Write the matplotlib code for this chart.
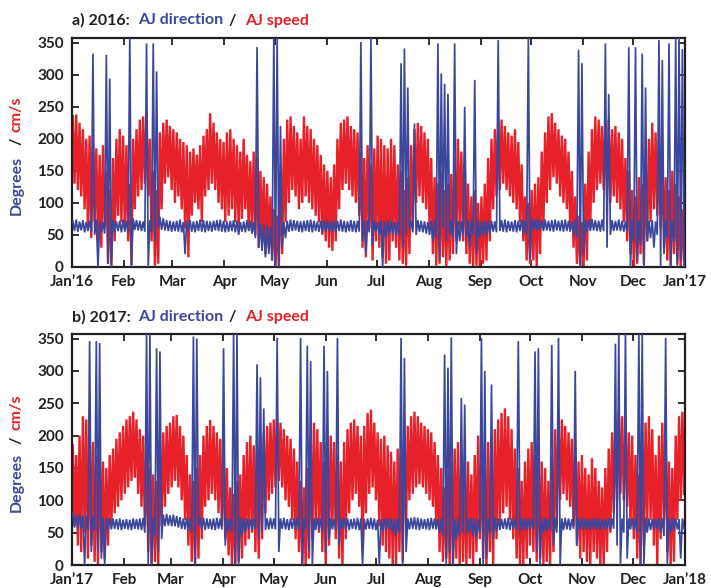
import numpy as np
import matplotlib
matplotlib.use("Agg")
import matplotlib.pyplot as plt

# AJ speed (cm/s) and direction (degrees): upper / lower envelope per 2-day step
speed_hi_2016 = [
    235, 238, 225, 215, 200, 205, 190, 185, 175, 190, 150, 120, 170, 200, 215,  # Jan
    205, 190, 130, 200, 215, 230, 235, 240, 200, 150, 120, 210, 225, 230, 220,  # Feb
    215, 210, 200, 195, 190, 180, 185, 175, 190, 205, 215, 240, 225, 210, 200, 195,  # Mar
    210, 215, 200, 190, 180, 200, 175, 165, 180, 170, 150, 140, 130, 110,  # Apr
    90, 80, 150, 200, 230, 235, 220, 210, 200, 235, 220, 215, 200, 190, 175, 160,  # May
    150, 140, 160, 200, 225, 230, 235, 220, 215, 210, 180, 170, 190, 160, 185,  # Jun
    205, 200, 190, 185, 200, 190, 160, 150, 120, 140, 190, 215, 225, 220, 210, 200,  # Jul
    170, 140, 130, 150, 120, 130, 145, 170, 200, 180, 160, 130, 110, 120, 100,  # Aug
    110, 130, 170, 200, 215, 225, 230, 220, 210, 205, 215, 195, 160, 110, 100,  # Sep
    120, 130, 140, 180, 210, 235, 240, 225, 215, 205, 200, 180, 150, 110, 80,  # Oct
    70, 130, 180, 215, 235, 230, 220, 225, 230, 215, 220, 210, 200, 170, 150,  # Nov
    120, 110, 140, 130, 160, 200, 225, 210, 190, 170, 140, 120, 150, 130, 110, 90,  # Dec
]
speed_lo_2016 = [
    130, 120, 110, 90, 60, 45, 70, 40, 30, 60, 5, 2, 40, 80, 70,
    60, 40, 3, 90, 110, 120, 130, 110, 40, 2, 5, 90, 130, 140, 120,
    100, 110, 90, 60, 15, 80, 100, 90, 70, 110, 120, 130, 120, 100, 90, 70,
    80, 90, 70, 60, 75, 90, 60, 55, 50, 30, 40, 20, 30, 10,
    2, 0, 20, 70, 100, 120, 110, 90, 100, 110, 100, 90, 80, 70, 50, 40,
    30, 25, 40, 90, 120, 130, 120, 110, 100, 80, 30, 15, 60, 10, 40,
    30, 15, 5, 10, 40, 30, 10, 5, 2, 20, 60, 100, 110, 100, 90, 60,
    20, 2, 5, 15, 0, 10, 20, 40, 60, 40, 20, 5, 0, 2, 0,
    5, 10, 40, 90, 110, 120, 130, 120, 110, 100, 90, 70, 40, 10, 5,
    10, 0, 20, 60, 100, 120, 140, 130, 110, 100, 90, 60, 30, 5, 0,
    0, 10, 60, 100, 120, 130, 120, 110, 100, 110, 100, 90, 70, 40, 20,
    0, 5, 20, 5, 40, 70, 90, 80, 60, 30, 10, 2, 20, 5, 0, 10,
]
dir_hi_2016 = [
    72, 74, 71, 73, 70, 72, 333, 74, 72, 70, 331, 294, 73, 71, 72,
    74, 72, 358, 76, 73, 72, 71, 349, 73, 349, 305, 78, 76, 73, 72,
    71, 72, 74, 70, 72, 73, 71, 72, 74, 73, 72, 71, 72, 73, 74, 72,
    71, 72, 73, 72, 70, 71, 73, 72, 70, 343, 68, 66, 65, 62,
    358, 358, 220, 70, 72, 74, 73, 72, 71, 72, 73, 74, 72, 71, 72, 73,
    72, 71, 73, 72, 74, 72, 71, 73, 72, 72, 351, 72, 73, 357, 72,
    70, 72, 71, 73, 72, 70, 71, 318, 341, 280, 72, 224, 73, 72, 71, 70,
    72, 73, 349, 302, 286, 270, 73, 349, 72, 71, 250, 72, 73, 292, 72,
    71, 73, 72, 72, 71, 354, 73, 74, 72, 71, 73, 72, 74, 72, 358,
    76, 74, 75, 73, 74, 72, 73, 74, 72, 73, 74, 72, 71, 73, 339,
    318, 73, 74, 75, 73, 72, 74, 349, 270, 73, 72, 74, 72, 71, 343,
    73, 343, 72, 333, 280, 72, 73, 71, 354, 323, 72, 349, 72, 358, 358, 340,
]
dir_lo_2016 = [
    56, 55, 57, 54, 56, 55, 50, 0, 54, 52, 5, 0, 55, 56, 54,
    55, 53, 0, 58, 57, 56, 55, 0, 54, 40, 60, 58, 57, 56, 55,
    56, 55, 54, 20, 56, 55, 54, 56, 55, 54, 56, 55, 57, 56, 55, 54,
    55, 56, 54, 50, 55, 54, 56, 52, 45, 30, 25, 15, 20, 10,
    0, 0, 30, 45, 55, 56, 57, 55, 54, 56, 55, 54, 56, 55, 54, 55,
    56, 55, 54, 56, 55, 54, 56, 55, 54, 55, 40, 20, 54, 35, 55,
    50, 0, 45, 50, 52, 48, 50, 30, 50, 60, 54, 50, 55, 54, 52, 50,
    40, 45, 10, 60, 40, 50, 45, 20, 40, 50, 45, 30, 50, 20, 45,
    50, 48, 52, 55, 54, 56, 55, 54, 56, 55, 54, 56, 52, 50, 10,
    58, 57, 58, 56, 57, 56, 55, 57, 56, 55, 56, 55, 50, 45, 0,
    20, 55, 56, 57, 56, 55, 56, 30, 50, 56, 57, 56, 55, 56, 0,
    40, 10, 35, 0, 40, 45, 30, 50, 0, 20, 45, 0, 40, 0, 10, 0,
]

speed_hi_2017 = [
    185, 170, 200, 230, 225, 210, 190, 170, 180, 160, 150, 170, 180, 195, 205, 215,  # Jan
    225, 230, 237, 225, 210, 200, 180, 150, 140, 130, 190, 205, 215, 220,  # Feb
    230, 232, 215, 200, 170, 140, 130, 150, 170, 200, 215, 224, 215, 205, 195,  # Mar
    180, 150, 120, 110, 130, 140, 170, 190, 200, 185, 170, 190, 205, 215, 220,  # Apr
    225, 228, 220, 210, 200, 195, 180, 160, 130, 120, 150, 200, 220, 210, 190, 160,  # May
    180, 200, 190, 170, 160, 190, 210, 220, 225, 215, 200, 215, 235, 240, 220,  # Jun
    205, 195, 200, 185, 175, 160, 180, 170, 200, 215, 230, 237, 230, 220, 215,  # Jul
    210, 205, 190, 170, 150, 120, 140, 160, 180, 190, 170, 150, 160, 140, 170, 200,  # Aug
    180, 160, 190, 170, 210, 225, 235, 242, 230, 210, 180, 150, 130, 160, 180,  # Sep
    190, 170, 180, 160, 150, 130, 170, 210, 232, 225, 215, 205, 195, 180, 160,  # Oct
    170, 150, 140, 165, 150, 130, 120, 150, 180, 205, 225, 237, 230, 215, 205,  # Nov
    200, 170, 140, 180, 220, 230, 210, 170, 200, 220, 190, 160, 150, 200, 230, 237,  # Dec
]
speed_lo_2017 = [
    60, 30, 20, 50, 10, 30, 5, 0, 20, 10, 30, 60, 80, 90, 100, 110,
    120, 130, 135, 110, 90, 60, 20, 0, 5, 0, 60, 90, 110, 120,
    130, 120, 100, 70, 30, 5, 0, 10, 40, 90, 100, 110, 100, 80, 60,
    40, 15, 0, 0, 5, 10, 30, 40, 50, 20, 10, 40, 80, 100, 110,
    120, 130, 120, 100, 90, 70, 40, 20, 0, 0, 10, 40, 60, 50, 20, 0,
    30, 60, 40, 10, 0, 40, 80, 100, 110, 90, 20, 80, 110, 120, 100,
    60, 30, 20, 10, 0, 0, 20, 5, 60, 100, 110, 120, 125, 120, 110,
    100, 90, 60, 20, 5, 10, 0, 0, 10, 0, 5, 0, 10, 0, 20, 40,
    10, 0, 20, 0, 40, 60, 80, 90, 70, 40, 10, 0, 0, 10, 30,
    20, 5, 10, 0, 5, 0, 20, 60, 100, 110, 100, 90, 60, 30, 10,
    20, 5, 0, 20, 10, 0, 0, 20, 50, 80, 100, 110, 100, 90, 60,
    40, 10, 0, 30, 60, 70, 30, 0, 40, 70, 20, 0, 5, 70, 100, 110,
]
dir_hi_2017 = [
    80, 78, 79, 77, 76, 346, 75, 346, 343, 74, 72, 73, 72, 71, 72, 70,
    71, 70, 72, 71, 72, 73, 358, 358, 72, 335, 330, 78, 79, 77,
    78, 76, 74, 72, 73, 72, 353, 350, 74, 73, 72, 71, 72, 73, 72,
    335, 72, 71, 358, 358, 74, 73, 72, 71, 72, 310, 290, 242, 72, 73,
    72, 351, 72, 73, 71, 72, 72, 73, 351, 72, 339, 315, 72, 73, 72, 339,
    300, 72, 71, 351, 72, 73, 72, 71, 72, 73, 72, 71, 72, 73, 72,
    70, 71, 72, 73, 72, 71, 72, 351, 320, 72, 73, 74, 73, 72, 71,
    72, 73, 72, 71, 72, 325, 305, 352, 71, 72, 258, 248, 72, 73, 72, 71,
    351, 300, 72, 279, 73, 72, 71, 72, 73, 72, 71, 346, 72, 73, 72,
    71, 330, 335, 72, 73, 72, 340, 73, 351, 72, 73, 72, 71, 300, 72,
    73, 72, 71, 72, 73, 72, 71, 72, 73, 72, 342, 358, 72, 358, 72,
    73, 72, 358, 358, 73, 72, 71, 72, 73, 72, 351, 72, 73, 72, 71, 72,
]
dir_lo_2017 = [
    58, 56, 57, 0, 55, 20, 54, 20, 10, 0, 54, 55, 56, 55, 54, 56,
    55, 54, 56, 55, 54, 50, 0, 0, 45, 20, 40, 60, 61, 60,
    60, 58, 56, 55, 54, 50, 0, 60, 55, 54, 56, 55, 54, 56, 55,
    30, 54, 50, 0, 0, 45, 50, 55, 54, 56, 40, 50, 54, 55, 56,
    55, 20, 56, 55, 54, 56, 55, 54, 0, 55, 20, 0, 54, 55, 50, 20,
    40, 55, 54, 30, 56, 55, 54, 56, 55, 54, 0, 55, 56, 55, 54,
    0, 52, 54, 55, 50, 45, 50, 0, 20, 55, 56, 55, 54, 56, 55,
    54, 56, 55, 50, 45, 0, 20, 0, 40, 45, 50, 48, 50, 45, 40, 50,
    0, 10, 50, 40, 52, 54, 56, 55, 54, 56, 55, 50, 54, 55, 54,
    56, 20, 0, 50, 52, 54, 30, 50, 0, 54, 55, 54, 56, 30, 55,
    56, 55, 54, 56, 55, 54, 56, 55, 54, 56, 30, 0, 50, 10, 55,
    54, 50, 0, 0, 50, 54, 55, 56, 50, 45, 0, 50, 54, 55, 10, 56,
]

month_names = ["Feb", "Mar", "Apr", "May", "Jun", "Jul", "Aug", "Sep", "Oct", "Nov", "Dec"]
month_days_2016 = [0, 31, 60, 91, 121, 152, 182, 213, 244, 274, 305, 335, 366]
month_days_2017 = [0, 31, 59, 90, 120, 151, 181, 212, 243, 273, 304, 334, 365]

BLUE = "#3b479c"
RED = "#e62129"
INK = "#231f20"

plt.rcParams["font.family"] = ["Lato", "DejaVu Sans"]
plt.rcParams["font.weight"] = "bold"


def zigzag(hi, lo, ndays):
    # hourly record is squeezed into alternating max / min per step
    n = len(hi)
    step = ndays / n
    idx = np.arange(n)
    x = np.empty(2 * n)
    y = np.empty(2 * n)
    x[0::2] = (idx + 0.25) * step
    x[1::2] = (idx + 0.75) * step
    y[0::2] = hi
    y[1::2] = lo
    return x, y


fig = plt.figure(figsize=(7.11, 5.88), dpi=100)

panels = [
    ([0.1013, 0.546, 0.862, 0.389], "a) 2016:", 366, month_days_2016, "Jan\u201916", "Jan\u201917",
     speed_hi_2016, speed_lo_2016, dir_hi_2016, dir_lo_2016, 20.5, [185, 141, 114]),
    ([0.1013, 0.039, 0.862, 0.393], "b) 2017:", 365, month_days_2017, "Jan\u201917", "Jan\u201918",
     speed_hi_2017, speed_lo_2017, dir_hi_2017, dir_lo_2017, 317, [482, 440, 412]),
]

for rect, tag, ndays, mdays, first, last, s_hi, s_lo, d_hi, d_lo, title_y, ylab_y in panels:
    ax = fig.add_axes(rect)

    xs, ys = zigzag(s_hi, s_lo, ndays)
    ax.plot(xs, ys, color=RED, lw=1.7, solid_joinstyle="miter", zorder=2)
    xd, yd = zigzag(d_hi, d_lo, ndays)
    ax.plot(xd, yd, color=BLUE, lw=1.25, solid_joinstyle="miter", zorder=3)

    ax.set_xlim(0, ndays)
    ax.set_ylim(0, 357)
    ax.set_yticks(range(0, 351, 50))
    ax.set_xticks(mdays)
    ax.set_xticklabels([first] + month_names + [last])
    ax.tick_params(direction="in", length=5, width=1.3, top=True, right=True,
                   labelsize=11, colors=INK, pad=6)
    for lab in ax.get_xticklabels() + ax.get_yticklabels():
        lab.set_fontweight("bold")
    for sp in ax.spines.values():
        sp.set_linewidth(1.6)
        sp.set_color(INK)

    # panel heading in three colours
    ty = 1 - title_y / 588
    fig.text(72 / 711, ty, tag, color=INK, fontsize=11.5, fontweight="bold", va="center")
    fig.text(138 / 711, ty, "AJ direction", color=BLUE, fontsize=11.5, fontweight="bold", va="center")
    fig.text(229 / 711, ty, "/", color=INK, fontsize=11.5, fontweight="bold", va="center")
    fig.text(245 / 711, ty, "AJ speed", color=RED, fontsize=11.5, fontweight="bold", va="center")

    # y label: Degrees / cm/s
    for txt, col, yy in zip(["Degrees", "/", "cm/s"], [BLUE, INK, RED], ylab_y):
        fig.text(17 / 711, 1 - yy / 588, txt, color=col, fontsize=11.5, fontweight="bold",
                 rotation=90, ha="center", va="center")

fig.savefig("out.png", dpi=100)
